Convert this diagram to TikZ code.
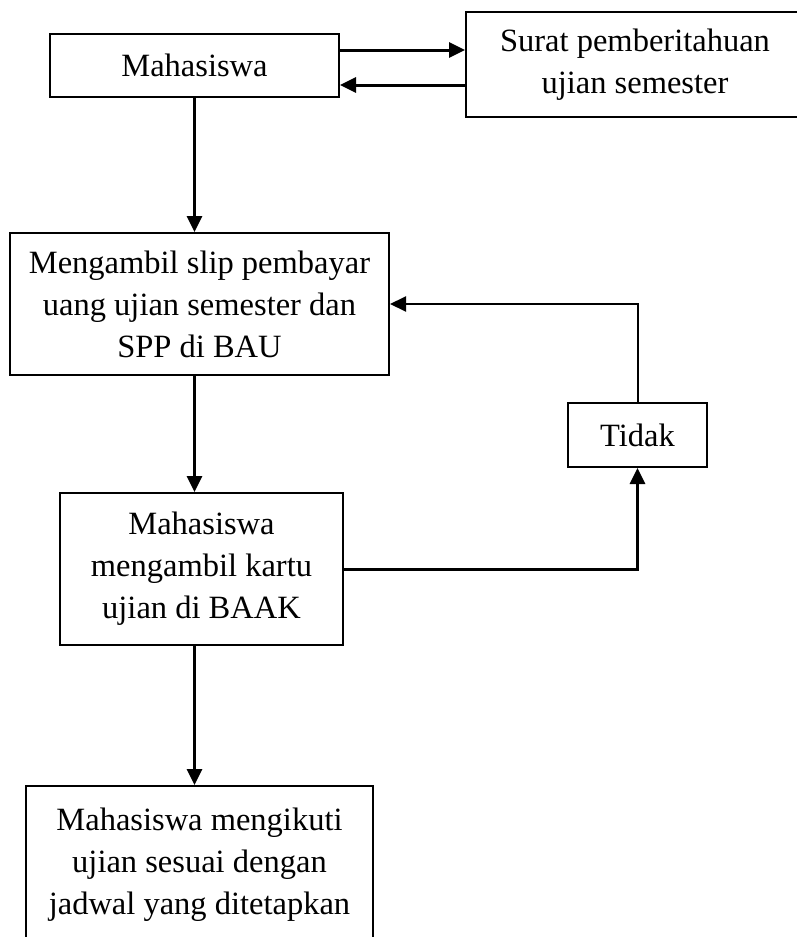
\documentclass[tikz,border=0pt]{standalone}
\usepackage{fontspec}
\setmainfont{Liberation Serif}
\usepackage{tikz}
\usetikzlibrary{
  arrows.meta,
  positioning,
  calc
}
\tikzset{
  fcbox/.style={
    draw, line width=2pt, inner sep=0pt, align=center,
    font=\fontsize{32.5}{42}\selectfont
  },
  fcline/.style={-{Triangle[length=16pt, width=15pt]}, line width=3pt},
  fcthin/.style={-{Triangle[length=16pt, width=15pt]}, line width=2pt}
}

\begin{document}
\begin{tikzpicture}[x=1pt, y=-1pt]
  \useasboundingbox (0,0) rectangle (796,937);
  \node[fcbox, minimum width=289pt, minimum height=63pt] (mhs) at (194.5,65.5) {Mahasiswa};
  \node[fcbox, minimum width=338pt, minimum height=105pt] (surat) at (635,64.5) {Surat pemberitahuan\\ujian semester};
  \node[fcbox, minimum width=379pt, minimum height=142pt] (slip) at (199.5,304) {Mengambil slip pembayar\\uang ujian semester dan\\SPP di BAU};
  \node[fcbox, minimum width=139pt, minimum height=64pt] (tidak) at (637.5,435) {Tidak};
  \node[fcbox, minimum width=283pt, minimum height=152pt] (kartu) at (201.5,569) {Mahasiswa\\mengambil kartu\\ujian di BAAK};
  \node[fcbox, minimum width=347pt, minimum height=158pt] (ikut) at (199.5,865) {Mahasiswa mengikuti\\ujian sesuai dengan\\jadwal yang ditetapkan};
  \draw[fcline] ($(mhs.east)+(0,-15.5)$) -- ($(surat.west |- mhs.east)+(0,-15.5)$);
  \draw[fcline] ($(surat.west |- mhs.east)+(0,19.5)$) -- ($(mhs.east)+(0,19.5)$);
  \draw[fcline] (mhs.south) -- (mhs.south |- slip.north);
  \draw[fcline] (mhs.south |- slip.south) -- (mhs.south |- kartu.north);
  \draw[fcline] (kartu.east) -| (tidak.south);
  \draw[fcthin] (tidak.north) |- (slip.east);
  \draw[fcline] (mhs.south |- kartu.south) -- (mhs.south |- ikut.north);
\end{tikzpicture}
\end{document}
